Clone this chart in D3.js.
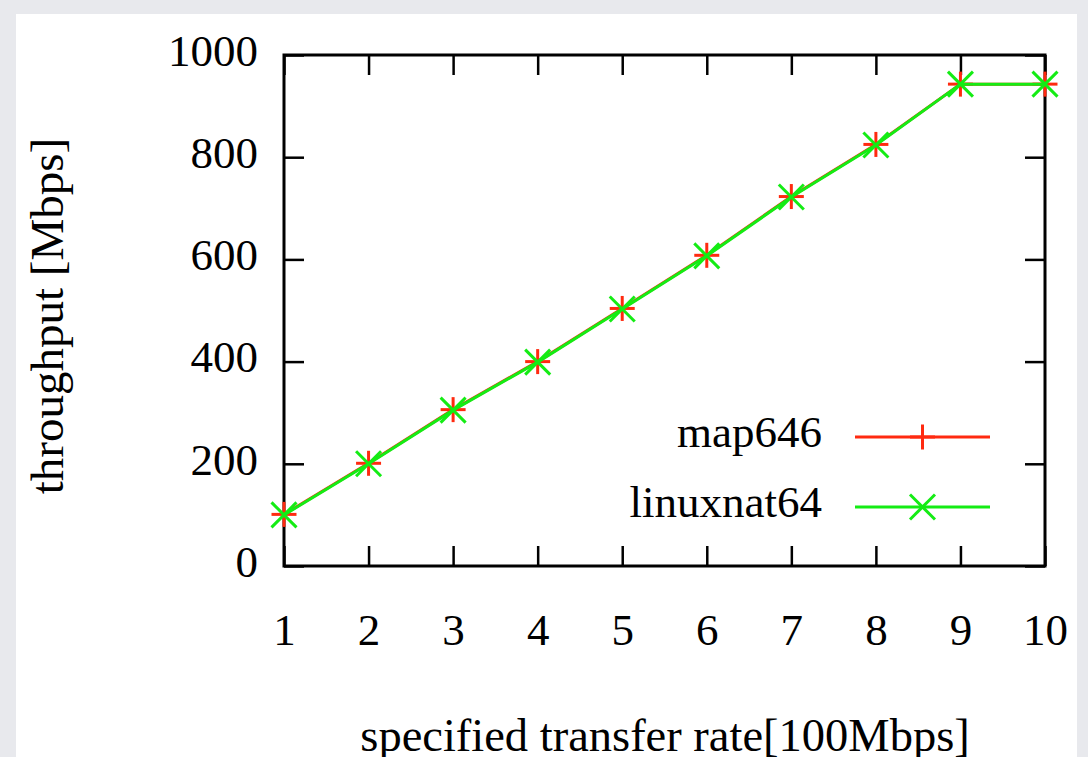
<!DOCTYPE html>
<html lang="en">
<head>
    <meta charset="UTF-8">
    <title>throughput</title>
    <style>
        body { margin: 0; background: #e8e9ed; }
        svg { display: block; }
    </style>
</head>
<body>
    <svg id="graph" width="1088" height="757"></svg>

    <script src="https://d3js.org/d3.v7.min.js"></script>
    <script>
        const rates = [1, 2, 3, 4, 5, 6, 7, 8, 9, 10];
        const map646 = [101, 201, 306, 400, 504, 608, 723, 825, 943, 943];
        const linuxnat64 = [100, 200, 305, 399, 503, 607, 722, 824, 943, 943];
        const yTicks = [0, 200, 400, 600, 800, 1000];
        const seriesNames = ["map646", "linuxnat64"];
        const seriesColors = ["#ff2a10", "#14ec14"];

        const font = "'Liberation Serif', 'Times New Roman', serif";
        const fs = 45;
        const plotLeft = 284, plotRight = 1045, plotTop = 55, plotBottom = 566;
        const tick = 20;

        const svg = d3.select("#graph");

        // white slide panel
        svg.append("rect")
            .attr("x", 16).attr("y", 14)
            .attr("width", 1061).attr("height", 760)
            .attr("fill", "#fff");

        const xScale = d3.scaleLinear().domain([1, 10]).range([plotLeft, plotRight]);
        const yScale = d3.scaleLinear().domain([0, 1000]).range([plotBottom, plotTop]);

        const styleAxis = (g) => {
            g.select(".domain").remove();
            g.selectAll(".tick line").attr("stroke", "#000").attr("stroke-width", 2.5);
            g.selectAll("text")
                .attr("fill", "#000")
                .style("font-family", font)
                .style("font-size", fs + "px");
        };

        svg.append("g")
            .attr("transform", `translate(0, ${plotBottom})`)
            .call(d3.axisBottom(xScale).tickValues(rates).tickSize(-tick).tickPadding(47).tickFormat(d3.format("d")))
            .call(styleAxis);

        svg.append("g")
            .attr("transform", `translate(0, ${plotTop})`)
            .call(d3.axisTop(xScale).tickValues(rates).tickSize(-tick).tickFormat(""))
            .call(styleAxis);

        svg.append("g")
            .attr("transform", `translate(${plotLeft}, 0)`)
            .call(d3.axisLeft(yScale).tickValues(yTicks).tickSize(-tick).tickPadding(26).tickFormat(d3.format("d")))
            .call(styleAxis)
            .selectAll("text").attr("dy", "0.23em");

        svg.append("g")
            .attr("transform", `translate(${plotRight}, 0)`)
            .call(d3.axisRight(yScale).tickValues(yTicks).tickSize(-tick).tickFormat(""))
            .call(styleAxis);

        // frame
        svg.append("rect")
            .attr("x", plotLeft).attr("y", plotTop)
            .attr("width", plotRight - plotLeft).attr("height", plotBottom - plotTop)
            .attr("fill", "none")
            .attr("stroke", "#000")
            .attr("stroke-width", 3);

        const line = d3.line()
            .x((d, i) => xScale(rates[i]))
            .y((d) => yScale(d));

        const m = 12.5;
        const plus = (g) => {
            g.append("line").attr("x1", -m).attr("x2", m).attr("y1", 0).attr("y2", 0);
            g.append("line").attr("x1", 0).attr("x2", 0).attr("y1", -m).attr("y2", m);
        };
        const cross = (g) => {
            g.append("line").attr("x1", -m).attr("x2", m).attr("y1", -m).attr("y2", m);
            g.append("line").attr("x1", -m).attr("x2", m).attr("y1", m).attr("y2", -m);
        };
        const markers = [plus, cross];

        [map646, linuxnat64].forEach((vals, k) => {
            const color = seriesColors[k];
            svg.append("path")
                .datum(vals)
                .attr("d", line)
                .attr("fill", "none")
                .attr("stroke", color)
                .attr("stroke-width", 3);

            svg.append("g")
                .selectAll("g")
                .data(vals)
                .join("g")
                .attr("transform", (d, i) => `translate(${xScale(rates[i])}, ${yScale(d)})`)
                .attr("stroke", color)
                .attr("stroke-width", 3)
                .each(function () { markers[k](d3.select(this)); });

            // legend
            const ly = [437, 507][k];
            svg.append("text")
                .attr("x", 822).attr("y", ly + 10)
                .attr("text-anchor", "end")
                .style("font-family", font)
                .style("font-size", fs + "px")
                .text(seriesNames[k]);
            svg.append("line")
                .attr("x1", 855).attr("x2", 990)
                .attr("y1", ly).attr("y2", ly)
                .attr("stroke", color).attr("stroke-width", 3);
            const lg = svg.append("g")
                .attr("transform", `translate(922.5, ${ly})`)
                .attr("stroke", color)
                .attr("stroke-width", 3);
            markers[k](lg);
        });

        // axis titles
        svg.append("text")
            .attr("x", 665).attr("y", 751)
            .attr("text-anchor", "middle")
            .style("font-family", font)
            .style("font-size", "46.5px")
            .text("specified transfer rate[100Mbps]");

        svg.append("text")
            .attr("transform", "translate(63, 316) rotate(-90)")
            .attr("text-anchor", "middle")
            .style("font-family", font)
            .style("font-size", "47px")
            .text("throughput [Mbps]");
    </script>
</body>
</html>
